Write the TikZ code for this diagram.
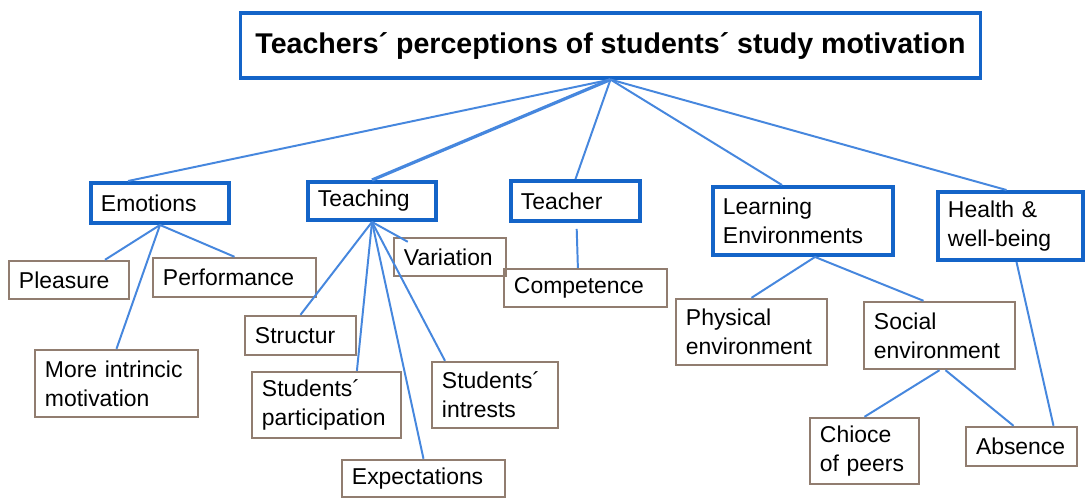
\documentclass[tikz,border=0pt]{standalone}
\usepackage{fontspec}
\setmainfont{Liberation Sans}
\usetikzlibrary{calc}

\definecolor{azul}{RGB}{20,100,200}
\definecolor{marrom}{RGB}{145,125,112}
\definecolor{linha}{RGB}{70,135,222}

\tikzset{
  titulo/.style={draw=azul, line width=2.2pt, font=\bfseries\fontsize{20.3}{24}\selectfont,
    minimum width=18.475cm, minimum height=1.625cm, inner sep=0pt},
  tema/.style={draw=azul, line width=2.8pt, font=\fontsize{16.3}{20.5}\selectfont,
    align=left, inner xsep=0.25cm, inner ysep=0pt},
  item/.style={draw=marrom, line width=1.7pt, font=\fontsize{16.3}{20.5}\selectfont,
    align=left, inner xsep=0.25cm, inner ysep=0pt},
  liga/.style={draw=linha, line width=1.4pt},
}

\begin{document}
\begin{tikzpicture}[x=0.025cm,y=-0.025cm]
  % fundo
  \fill[white] (0,0) rectangle (1085,498);
  \useasboundingbox (0,0) rectangle (1085,498);

  % raiz
  \node[titulo] (raiz) at (610.5,45.5) {Teachers´ perceptions of students´ study motivation};

  % temas
  \node[tema, text width=2.95cm, minimum height=1.0cm] (emo) at (160,203) {Emotions};
  \node[tema, text width=2.7cm, minimum height=0.95cm] (ens) at (372,201) {Teaching};
  \node[tema, text width=2.725cm, minimum height=1.0cm] (prof) at (575.5,201) {Teacher};
  \node[tema, text width=4.0cm, minimum height=1.7cm] (amb) at (803,221) {Learning\\Environments};
  \node[tema, text width=3.125cm, minimum height=1.7cm] (sau) at (1010.5,226) {Health \&\\well-being};

  % itens
  \node[item, text width=2.5cm, minimum height=0.95cm] (praz) at (69,280) {Pleasure};
  \node[item, text width=3.575cm, minimum height=0.975cm] (desemp) at (234.5,277.5) {Performance};
  \node[item, text width=3.575cm, minimum height=1.675cm] (motiv) at (116.5,383.5) {More intrincic\\motivation};
  \node[item, text width=2.275cm, minimum height=0.975cm] (estr) at (300.5,335.5) {Structur};
  \node[item, text width=3.225cm, minimum height=1.65cm] (part) at (326.5,405) {Students´\\participation};
  \node[item, text width=3.575cm, minimum height=0.925cm] (expec) at (423.5,478.5) {Expectations};
  \node[item, text width=2.3cm, minimum height=0.95cm] (var) at (450,257) {Variation};
  \node[item, text width=2.65cm, minimum height=1.65cm] (inter) at (495,395) {Students´\\intrests};
  \node[item, text width=3.575cm, minimum height=0.95cm] (comp) at (585.5,288) {Competence};
  \node[item, text width=3.275cm, minimum height=1.65cm] (fis) at (751.5,332) {Physical\\environment};
  \node[item, text width=3.275cm, minimum height=1.675cm] (soc) at (939.5,335.5) {Social\\environment};
  \node[item, text width=2.225cm, minimum height=1.65cm] (pares) at (864.5,451) {Chioce\\of peers};
  \node[item, text width=2.275cm, minimum height=0.975cm] (aus) at (1021.5,446.5) {Absence};

  % ligações da raiz
  \draw[liga] (raiz.south) -- ([xshift=-0.8cm]emo.north);
  \draw[liga, line width=2.3pt] (raiz.south) -- (ens.north);
  \draw[liga] (raiz.south) -- (prof.north);
  \draw[liga] (raiz.south) -- ([xshift=-0.525cm]amb.north);
  \draw[liga] (raiz.south) -- ([xshift=-0.1cm]sau.north);

  % emotions
  \draw[liga] (emo.south) -- ([xshift=0.9cm]praz.north);
  \draw[liga] (emo.south) -- (desemp.north);
  \draw[liga] (emo.south) -- (motiv.north);

  % teaching
  \draw[liga] (ens.south) -- ($(var.north west)+(15,5)$);
  \draw[liga] (ens.south) -- (estr.north);
  \draw[liga] (ens.south) -- ([xshift=0.76cm]part.north);
  \draw[liga] (ens.south) -- (expec.north);
  \draw[liga] (ens.south) -- ([xshift=-1.25cm]inter.north);

  % teacher
  \draw[liga] ([xshift=0.03cm,yshift=-0.15cm]prof.south) -- ([xshift=-0.19cm]comp.north);

  % learning environments
  \draw[liga] ([xshift=0.3cm]amb.south) -- (fis.north);
  \draw[liga] ([xshift=0.3cm]amb.south) -- ([xshift=-0.4cm]soc.north);
  \draw[liga] (soc.south) -- (pares.north);
  \draw[liga] ([xshift=0.15cm]soc.south) -- ([xshift=-0.2cm]aus.north);

  % health
  \draw[liga] ([xshift=0.15cm]sau.south) -- ([xshift=0.8cm]aus.north);
\end{tikzpicture}
\end{document}
